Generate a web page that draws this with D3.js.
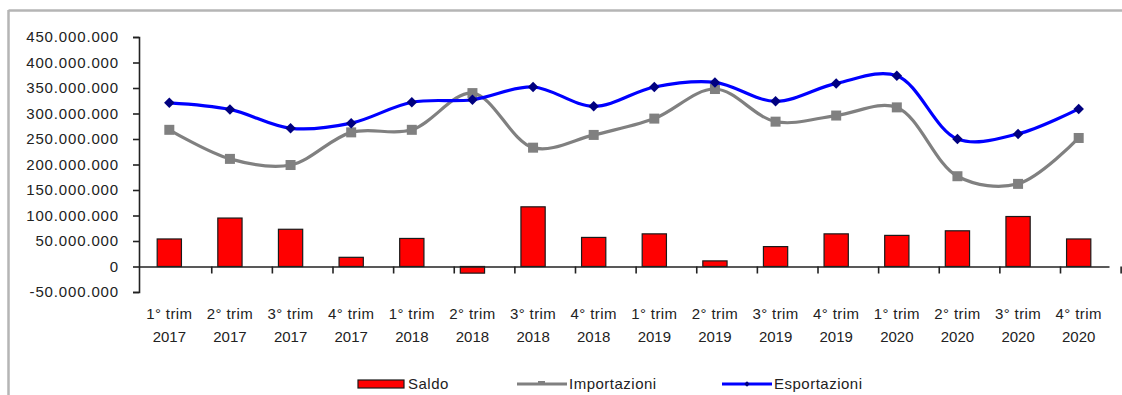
<!DOCTYPE html>
<html>
<head>
<meta charset="utf-8">
<script src="https://cdn.jsdelivr.net/npm/d3@7"></script>
<style>
  html, body { margin: 0; padding: 0; background: #fff; }
  svg { display: block; font-family: "Liberation Sans", Arial, sans-serif; }
</style>
</head>
<body>
<svg id="chart" width="1122" height="395"></svg>
<script>
// Quarterly trade figures 2017-2020 (euro)
const quarters = ["1° trim","2° trim","3° trim","4° trim","1° trim","2° trim","3° trim","4° trim",
                  "1° trim","2° trim","3° trim","4° trim","1° trim","2° trim","3° trim","4° trim"];
const years = ["2017","2017","2017","2017","2018","2018","2018","2018",
               "2019","2019","2019","2019","2020","2020","2020","2020"];
const saldo = [54e6, 95e6, 73e6, 18e6, 55e6, -13e6, 117e6, 57e6,
               64e6, 11e6, 39e6, 64e6, 61e6, 70e6, 98e6, 54e6];
const importazioni = [268e6, 211e6, 199e6, 263e6, 268e6, 340e6, 233e6, 258e6,
                      290e6, 348e6, 284e6, 296e6, 312e6, 177e6, 162e6, 252e6];
const esportazioni = [321e6, 308e6, 271e6, 281e6, 322e6, 327e6, 352e6, 314e6,
                      352e6, 361e6, 324e6, 359e6, 374e6, 250e6, 260e6, 309e6];
const yTicks = [-50e6, 0, 50e6, 100e6, 150e6, 200e6, 250e6, 300e6, 350e6, 400e6, 450e6];
const seriesNames = ["Saldo", "Importazioni", "Esportazioni"];

const svg = d3.select("#chart");
const textColor = "#222";

// outer frame (top and left edges)
svg.append("line").attr("x1", 8.5).attr("x2", 1122).attr("y1", 10.5).attr("y2", 10.5)
  .attr("stroke", "#b5b5b5").attr("stroke-width", 2.5);
svg.append("line").attr("x1", 8.5).attr("x2", 8.5).attr("y1", 10).attr("y2", 395)
  .attr("stroke", "#b5b5b5").attr("stroke-width", 2.5);

const cats = quarters.map((q, i) => i);
const x = d3.scaleBand().domain(cats).range([139, 1109]).paddingInner(0.6).paddingOuter(0.3);
const step = x.step();
const y = d3.scaleLinear().domain([-50e6, 450e6]).range([292, 37]);
const cx = i => x(i) + x.bandwidth() / 2;

const it = d3.formatLocale({ decimal: ",", thousands: ".", grouping: [3], currency: ["€", ""], minus: "-" });
const fmt = it.format(",.0f");

// y axis
const yAxis = svg.append("g").attr("transform", "translate(139,0)")
  .call(d3.axisLeft(y).tickValues(yTicks).tickFormat(fmt).tickSize(6).tickSizeOuter(6).tickPadding(14));
yAxis.select(".domain").attr("stroke", "#222").attr("stroke-width", 1.6);
yAxis.selectAll(".tick line").attr("stroke", "#222").attr("stroke-width", 1.6);
yAxis.selectAll(".tick text").attr("fill", textColor).style("font-size", "15px")
  .style("letter-spacing", "0.85px").attr("font-family", "Liberation Sans, Arial, sans-serif");

// bars (Saldo)
svg.append("g").selectAll("rect").data(saldo).join("rect")
  .attr("x", (d, i) => x(i))
  .attr("y", d => y(Math.max(0, d)))
  .attr("width", x.bandwidth())
  .attr("height", d => Math.abs(y(d) - y(0)))
  .attr("fill", "#ff0000").attr("stroke", "#1a1a1a").attr("stroke-width", 1.2);

// category axis on the zero line, ticks at category boundaries
const xAxis = svg.append("g").attr("transform", `translate(0,${y(0)})`)
  .call(d3.axisBottom(x).tickSize(7).tickSizeOuter(0).tickFormat(""));
xAxis.select(".domain").attr("stroke", "#222").attr("stroke-width", 1.6);
xAxis.selectAll(".tick line").attr("stroke", "#222").attr("stroke-width", 1.6)
  .attr("x1", x.bandwidth() / 2 + step / 2).attr("x2", x.bandwidth() / 2 + step / 2);

// category labels, two lines
const labels = svg.append("g").attr("fill", textColor).style("font-size", "15px").attr("text-anchor", "middle");
labels.selectAll("text.q").data(quarters).join("text").attr("class", "q")
  .attr("x", (d, i) => cx(i)).attr("y", 319).style("letter-spacing", "0.4px").text(d => d);
labels.selectAll("text.yr").data(years).join("text").attr("class", "yr")
  .attr("x", (d, i) => cx(i)).attr("y", 342).text(d => d);

// smoothed lines
const line = d3.line().x((d, i) => cx(i)).y(d => y(d)).curve(d3.curveCatmullRom.alpha(0.5));

svg.append("path").datum(importazioni).attr("d", line)
  .attr("fill", "none").attr("stroke", "#808080").attr("stroke-width", 3.2);
svg.append("g").selectAll("rect").data(importazioni).join("rect")
  .attr("x", (d, i) => cx(i) - 5).attr("y", d => y(d) - 5)
  .attr("width", 10).attr("height", 10).attr("fill", "#808080");

svg.append("path").datum(esportazioni).attr("d", line)
  .attr("fill", "none").attr("stroke", "#0000ff").attr("stroke-width", 3.2);
const diamond = d3.symbol().type(d3.symbolDiamond2).size(70);
svg.append("g").selectAll("path").data(esportazioni).join("path")
  .attr("transform", (d, i) => `translate(${cx(i)},${y(d)})`)
  .attr("d", diamond).attr("fill", "#000080");

// legend
const leg = svg.append("g").style("font-size", "15px").style("letter-spacing", "0.5px").attr("fill", textColor);
leg.append("rect").attr("x", 358).attr("y", 380).attr("width", 46).attr("height", 8)
  .attr("fill", "#ff0000").attr("stroke", "#1a1a1a").attr("stroke-width", 1.2);
leg.append("text").attr("x", 408).attr("y", 389).text(seriesNames[0]);

leg.append("line").attr("x1", 517).attr("x2", 567).attr("y1", 384).attr("y2", 384)
  .attr("stroke", "#808080").attr("stroke-width", 3);
leg.append("rect").attr("x", 538).attr("y", 381).attr("width", 7).attr("height", 4).attr("fill", "#808080");
leg.append("text").attr("x", 569).attr("y", 389).text(seriesNames[1]);

leg.append("line").attr("x1", 722).attr("x2", 772).attr("y1", 384).attr("y2", 384)
  .attr("stroke", "#0000ff").attr("stroke-width", 3);
leg.append("path").attr("transform", "translate(747,384)")
  .attr("d", d3.symbol().type(d3.symbolDiamond2).size(20)).attr("fill", "#000080");
leg.append("text").attr("x", 774).attr("y", 389).text(seriesNames[2]);
</script>
</body>
</html>
